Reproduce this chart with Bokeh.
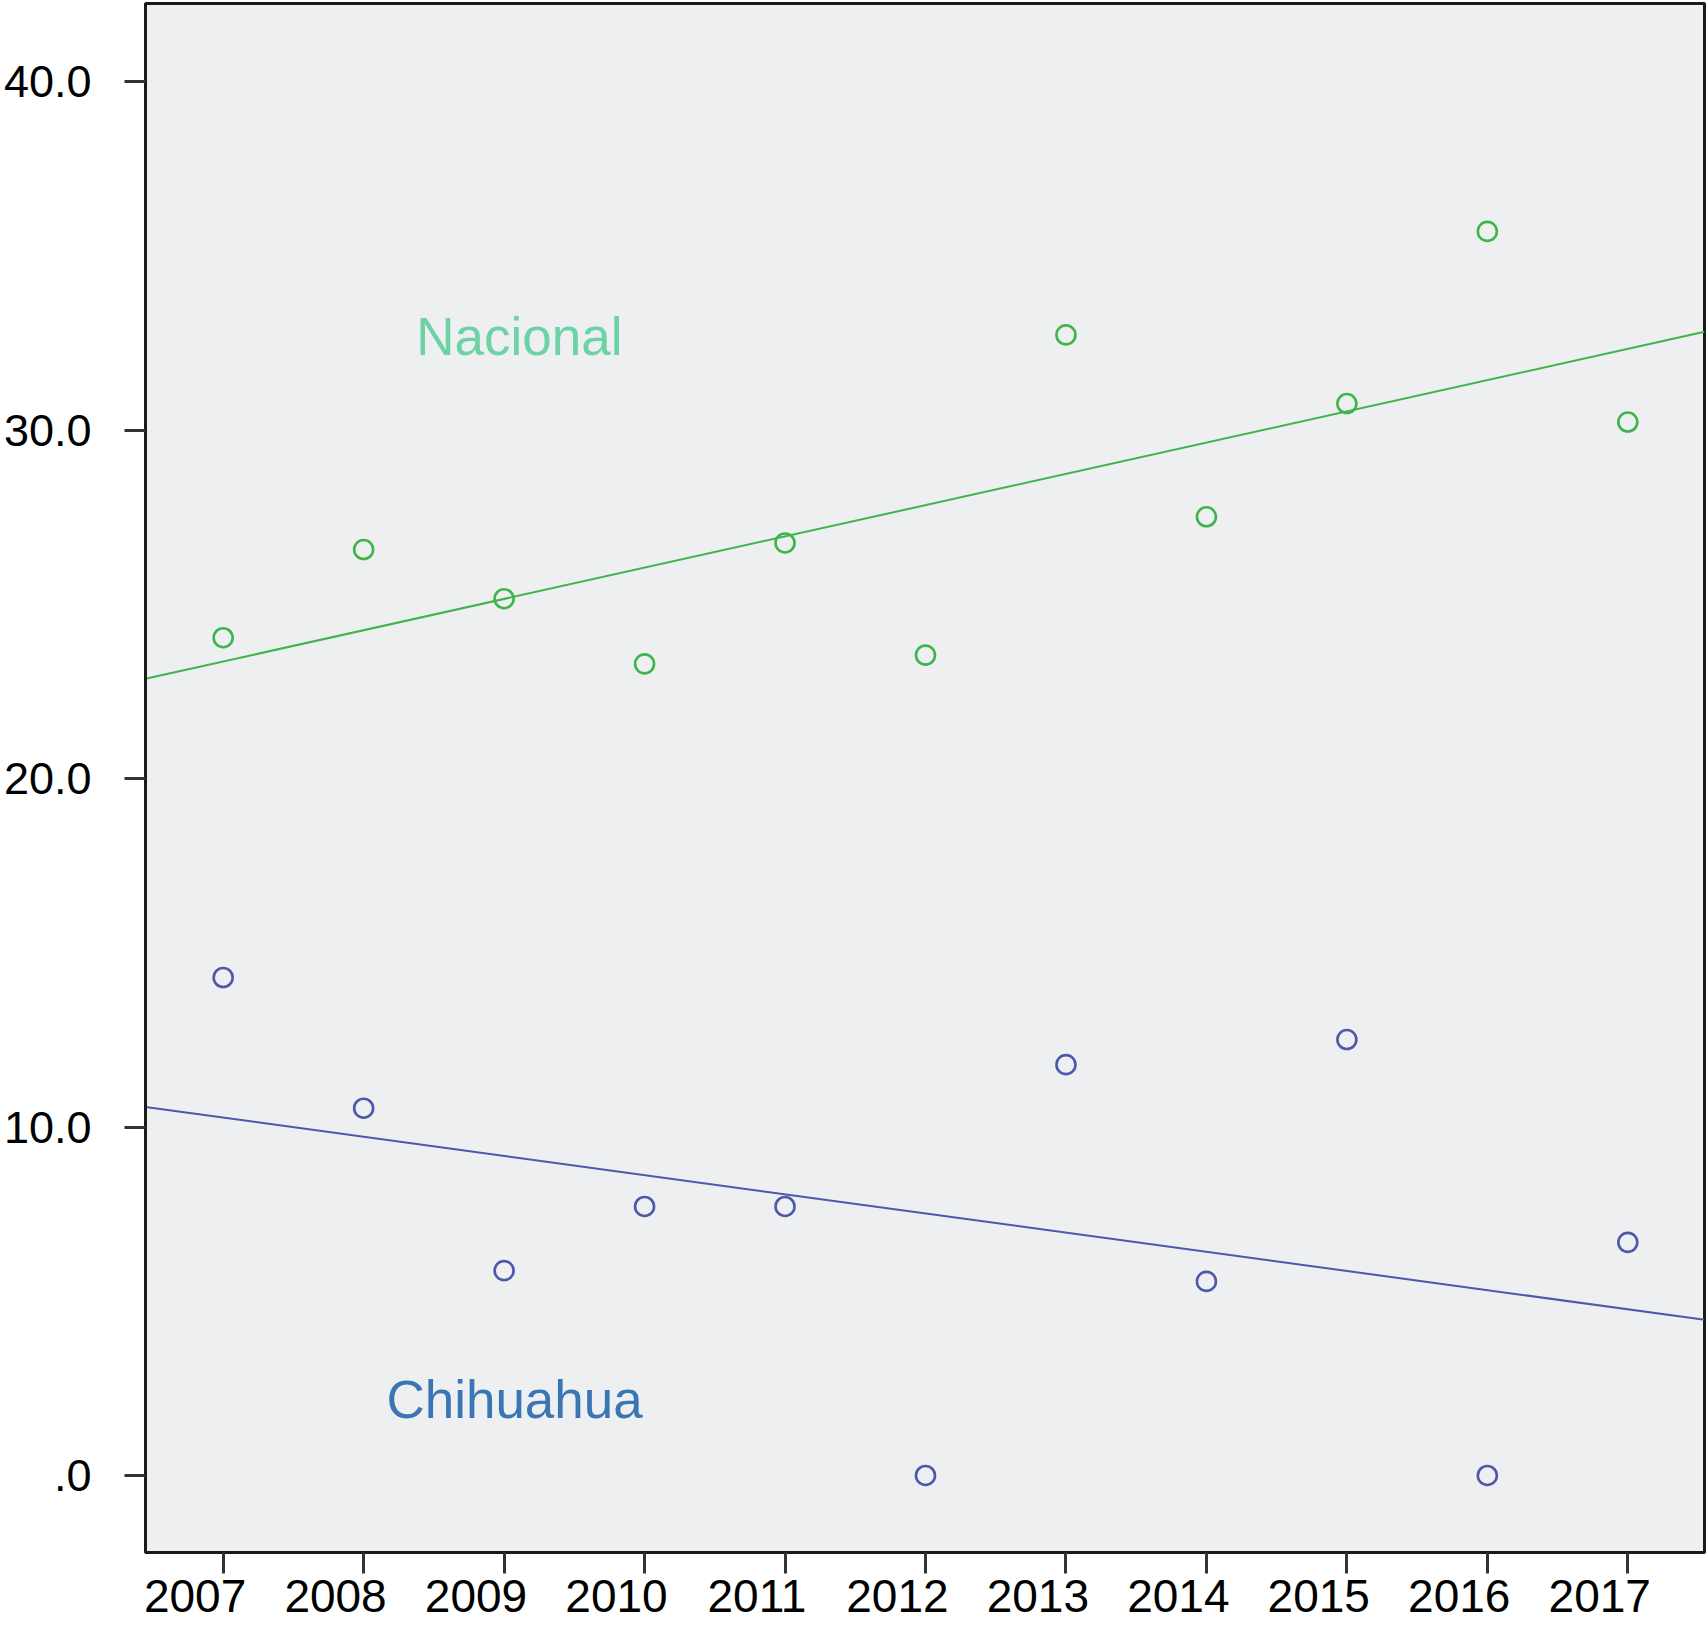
import numpy as np
from bokeh.plotting import figure
from bokeh.models import FixedTicker, Range1d, LinearAxis
from bokeh.core.properties import value
from bokeh.embed import file_html
from bokeh.resources import INLINE

years = [2007, 2008, 2009, 2010, 2011, 2012, 2013, 2014, 2015, 2016, 2017]
nacional = [24.04, 26.57, 25.16, 23.29, 26.76, 23.54, 32.73, 27.51, 30.76, 35.70, 30.23]
chihuahua = [14.29, 10.54, 5.88, 7.72, 7.72, 0.0, 11.79, 5.57, 12.51, 0.0, 6.69]
y_ticks = [0, 10, 20, 30, 40]
y_tick_labels = [".0", "10.0", "20.0", "30.0", "40.0"]
x_tick_labels = [str(y) for y in years]

X0, X1 = 2006.447, 2017.546
Y0, Y1 = -2.21, 42.24
LABEL_SHIFT = 0.2  # x tick labels sit slightly left of their ticks in the original

GREEN = "#3db54b"
BLUE = "#4d58ab"
FONT = "Liberation Sans"

p = figure(width=1708, height=1628, output_backend="svg", toolbar_location=None,
           x_range=Range1d(X0, X1), y_range=Range1d(Y0, Y1),
           min_border_left=144, min_border_right=4, min_border_top=3, min_border_bottom=76)
p.background_fill_color = "#eeeff1"
p.border_fill_color = "white"
p.outline_line_color = "#1a1a1a"
p.outline_line_width = 3
p.grid.visible = False

p.extra_x_ranges = {"lbl": Range1d(X0 + LABEL_SHIFT, X1 + LABEL_SHIFT)}

# tick-only x axis (labels hidden)
xa = p.xaxis[0]
xa.ticker = FixedTicker(ticks=years)
xa.major_label_overrides = {y: "" for y in years}
xa.major_label_text_font_size = "1px"
xa.major_label_standoff = 0

# label-only x axis
xl_axis = LinearAxis(x_range_name="lbl", ticker=FixedTicker(ticks=years),
                     major_label_overrides={y: l for y, l in zip(years, x_tick_labels)})
xl_axis.axis_line_color = None
xl_axis.major_tick_line_color = None
xl_axis.major_tick_out = 0
xl_axis.major_tick_in = 0
xl_axis.minor_tick_line_color = None
xl_axis.major_label_text_font = FONT
xl_axis.major_label_text_font_size = "46px"
xl_axis.major_label_text_color = "black"
xl_axis.major_label_standoff = 6
p.add_layout(xl_axis, "below")

p.yaxis.ticker = FixedTicker(ticks=y_ticks)
p.yaxis.major_label_overrides = {t: l for t, l in zip(y_ticks, y_tick_labels)}
for ax in (xa, p.yaxis[0]):
    ax.axis_line_color = "#1a1a1a"
    ax.axis_line_width = 3
    ax.major_tick_line_color = "#333333"
    ax.major_tick_line_width = 3
    ax.major_tick_out = 21
    ax.major_tick_in = 0
    ax.minor_tick_line_color = None
p.yaxis.major_label_text_font = FONT
p.yaxis.major_label_text_font_size = "45px"
p.yaxis.major_label_text_color = "black"
p.yaxis.major_label_standoff = 33

xs = np.array(years, dtype=float)
xl = np.array([X0, X1])
for vals, col in ((nacional, GREEN), (chihuahua, BLUE)):
    m, b = np.polyfit(xs, np.array(vals), 1)
    p.line(xl, m * xl + b, line_color=col, line_width=2)
    p.scatter(years, vals, marker="circle", size=19, fill_color=None,
              line_color=col, line_width=2.6)

p.text(x=[2008.375], y=[32.68], text=["Nacional"], text_color="#6dd3a5",
       text_font=value(FONT), text_font_size="53px", text_align="left",
       text_baseline="alphabetic")
p.text(x=[2008.162], y=[2.18], text=["Chihuahua"], text_color="#3a76b4",
       text_font=value(FONT), text_font_size="53px", text_align="left",
       text_baseline="alphabetic")

open("out.html", "w").write(file_html(p, INLINE))
